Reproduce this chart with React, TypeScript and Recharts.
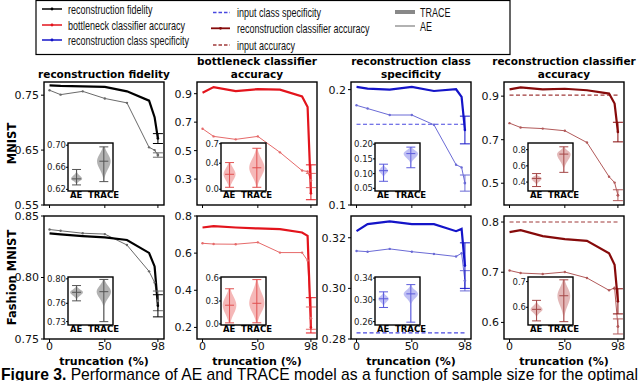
import React from "react";
import {
  ComposedChart,
  Line,
  Scatter,
  ErrorBar,
  Bar,
  XAxis,
  YAxis,
  ReferenceLine,
} from "recharts";

// x positions of the sample-size truncation runs
const truncation = [0, 10, 30, 50, 70, 90, 95, 98];
const xTicks = [0, 50, 98];

// MNIST row
const mnistFidelityTrace = [0.768, 0.767, 0.766, 0.765, 0.757, 0.74, 0.71, 0.671];
const mnistFidelityAE = [0.759, 0.751, 0.757, 0.744, 0.736, 0.655, 0.65, 0.641];
const mnistBottleneckTrace = [0.907, 0.946, 0.918, 0.932, 0.928, 0.881, 0.806, 0.2];
const mnistBottleneckAE = [0.654, 0.6, 0.579, 0.6, 0.488, 0.36, 0.353, 0.29];
const mnistSpecTrace = [0.2023, 0.2009, 0.2, 0.2023, 0.1988, 0.2003, 0.1937, 0.165];
const mnistSpecAE = [0.1864, 0.1836, 0.178, 0.178, 0.1695, 0.1349, 0.1326, 0.119];
const mnistRecAccTrace = [0.931, 0.94, 0.931, 0.934, 0.927, 0.912, 0.866, 0.735];
const mnistRecAccAE = [0.776, 0.756, 0.751, 0.741, 0.687, 0.53, 0.503, 0.445];
const mnistInputSpec = 0.17;
const mnistInputAcc = 0.905;

// Fashion MNIST row
const fashionFidelityTrace = [0.8358, 0.835, 0.8337, 0.8326, 0.8305, 0.82, 0.809, 0.777];
const fashionFidelityAE = [0.839, 0.838, 0.836, 0.8353, 0.8264, 0.805, 0.796, 0.781];
const fashionBottleneckTrace = [0.738, 0.745, 0.738, 0.733, 0.729, 0.711, 0.693, 0.2];
const fashionBottleneckAE = [0.653, 0.649, 0.648, 0.658, 0.603, 0.603, 0.56, 0.25];
const fashionSpecTrace = [0.3226, 0.3254, 0.3265, 0.3254, 0.3254, 0.3226, 0.3235, 0.309];
const fashionSpecAE = [0.3148, 0.3145, 0.3156, 0.3145, 0.3136, 0.3126, 0.3139, 0.303];
const fashionRecAccTrace = [0.78, 0.7837, 0.772, 0.766, 0.7626, 0.7378, 0.7148, 0.642];
const fashionRecAccAE = [0.7035, 0.6984, 0.6965, 0.7004, 0.6886, 0.664, 0.669, 0.592];
const fashionInputSpec = 0.2824;
const fashionInputAcc = 0.8;

// error bars at 98% truncation: [below, above]
const errMnistFidelity = { trace: [0.009, 0.009], ae: [0.004, 0.004] };
const errMnistBottleneck = { trace: [0.045, 0.2], ae: [0.05, 0.05] };
const errMnistSpec = { trace: [0.012, 0.012], ae: [0.007, 0.007] };
const errMnistRecAcc = { trace: [0.045, 0.045], ae: [0.025, 0.025] };
const errFashionFidelity = { trace: [0.009, 0.009], ae: [0.008, 0.008] };
const errFashionBottleneck = { trace: [0.03, 0.16], ae: [0.06, 0.06] };
const errFashionSpec = { trace: [0.009, 0.009], ae: [0.004, 0.004] };
const errFashionRecAcc = { trace: [0.025, 0.025], ae: [0.015, 0.015] };

// violin stats: [min, body low, median, body high, max, relative width]
const insetLabels = ["AE", "TRACE"];
const vMnistFidelity = [[0.628, 0.633, 0.639, 0.648, 0.656, 0.7], [0.634, 0.648, 0.671, 0.692, 0.697, 0.85]];
const vMnistBottleneck = [[0.03, 0.08, 0.23, 0.38, 0.41, 0.75], [0.03, 0.12, 0.33, 0.55, 0.63, 0.95]];
const vMnistSpec = [[0.074, 0.095, 0.11, 0.125, 0.132, 0.55], [0.12, 0.145, 0.168, 0.185, 0.19, 0.9]];
const vMnistRecAcc = [[0.345, 0.39, 0.445, 0.48, 0.505, 0.65], [0.52, 0.62, 0.745, 0.81, 0.835, 0.85]];
const vFashionFidelity = [[0.764, 0.77, 0.778, 0.785, 0.789, 0.8], [0.73, 0.762, 0.779, 0.794, 0.799, 0.9]];
const vFashionBottleneck = [[0.014, 0.06, 0.245, 0.42, 0.46, 0.85], [0.015, 0.08, 0.27, 0.5, 0.58, 0.95]];
const vFashionSpec = [[0.286, 0.293, 0.302, 0.31, 0.3147, 0.65], [0.259, 0.298, 0.311, 0.322, 0.328, 0.9]];
const vFashionRecAcc = [[0.547, 0.572, 0.592, 0.612, 0.627, 0.75], [0.544, 0.585, 0.645, 0.695, 0.707, 0.8]];

const titles = [
  ["reconstruction fidelity"],
  ["bottleneck classifier", "accuracy"],
  ["reconstruction class", "specificity"],
  ["reconstruction classifier", "accuracy"],
];
const rowLabels = ["MNIST", "Fashion MNIST"];
const legendCol1 = ["reconstruction fidelity", "bottleneck classifier accuracy", "reconstruction class specificity"];
const legendCol2 = ["input class specificity", "reconstruction classifier accuracy", "input accuracy"];
const legendCol3 = ["TRACE", "AE"];

const FONT = "'DejaVu Sans', sans-serif";
const BOX_W = 120;
const BOX_H = 123;
const YW = 40;
const MT = 8; // room above each panel for the top tick label
const colLeft = [44, 197, 351, 504];
const rowTop = [82, 216];
// inset box relative to its panel
const IN_DX = 24;
const IN_DY = 61;
const IN_W = 45;
const IN_H = 48;
const IN_YW = 24;
const IN_MT = 6;
const IN_MR = 14;

const pal = {
  fidelity: { line: "#000000", ae: "#6a6a6a", violin: "#9a9a9a", whisker: "#555555", dash: "#000" },
  bottleneck: { line: "#e3141c", ae: "#e66a6a", violin: "#f2a0a0", whisker: "#e05050", dash: "#e3141c" },
  spec: { line: "#1414c8", ae: "#6b6bd6", violin: "#a9a9f0", whisker: "#5c5cdc", dash: "#4848e0" },
  recAcc: { line: "#860a0a", ae: "#b25a5a", violin: "#d9a0a0", whisker: "#a54848", dash: "#a03a3a" },
};

const panels = [
  { col: 0, row: 0, trace: mnistFidelityTrace, ae: mnistFidelityAE, err: errMnistFidelity, p: pal.fidelity,
    domain: [0.55, 0.774], ticks: [0.55, 0.65, 0.75], digits: 2,
    violins: vMnistFidelity, iDomain: [0.617, 0.704], iTicks: [0.62, 0.66, 0.7], iDigits: 2 },
  { col: 1, row: 0, trace: mnistBottleneckTrace, ae: mnistBottleneckAE, err: errMnistBottleneck, p: pal.bottleneck,
    domain: [0.118, 0.982], ticks: [0.3, 0.5, 0.7, 0.9], digits: 1,
    violins: vMnistBottleneck, iDomain: [-0.027, 0.711], iTicks: [0, 0.4, 0.7], iDigits: 1 },
  { col: 2, row: 0, trace: mnistSpecTrace, ae: mnistSpecAE, err: errMnistSpec, p: pal.spec, input: mnistInputSpec,
    domain: [0.1, 0.2066], ticks: [0.1, 0.2], digits: 1,
    violins: vMnistSpec, iDomain: [0.041, 0.204], iTicks: [0.05, 0.1, 0.15, 0.2], iDigits: 2 },
  { col: 3, row: 0, trace: mnistRecAccTrace, ae: mnistRecAccAE, err: errMnistRecAcc, p: pal.recAcc, input: mnistInputAcc,
    domain: [0.4, 0.965], ticks: [0.5, 0.7, 0.9], digits: 1,
    violins: vMnistRecAcc, iDomain: [0.29, 0.882], iTicks: [0.4, 0.6, 0.8], iDigits: 1 },
  { col: 0, row: 1, trace: fashionFidelityTrace, ae: fashionFidelityAE, err: errFashionFidelity, p: pal.fidelity,
    domain: [0.75, 0.85], ticks: [0.75, 0.8, 0.85], digits: 2,
    violins: vFashionFidelity, iDomain: [0.7245, 0.803], iTicks: [0.73, 0.76, 0.8], iDigits: 2 },
  { col: 1, row: 1, trace: fashionBottleneckTrace, ae: fashionBottleneckAE, err: errFashionBottleneck, p: pal.bottleneck,
    domain: [0.1376, 0.8], ticks: [0.2, 0.4, 0.6, 0.8], digits: 1,
    violins: vFashionBottleneck, iDomain: [-0.014, 0.614], iTicks: [0, 0.3, 0.6], iDigits: 1 },
  { col: 2, row: 1, trace: fashionSpecTrace, ae: fashionSpecAE, err: errFashionSpec, p: pal.spec, input: fashionInputSpec,
    domain: [0.28, 0.3286], ticks: [0.28, 0.3, 0.32], digits: 2,
    violins: vFashionSpec, iDomain: [0.2538, 0.342], iTicks: [0.26, 0.3, 0.34], iDigits: 2 },
  { col: 3, row: 1, trace: fashionRecAccTrace, ae: fashionRecAccAE, err: errFashionRecAcc, p: pal.recAcc, input: fashionInputAcc,
    domain: [0.567, 0.812], ticks: [0.6, 0.7, 0.8], digits: 1,
    violins: vFashionRecAcc, iDomain: [0.531, 0.718], iTicks: [0.6, 0.7], iDigits: 1 },
];

function makeViolin(p: any) {
  return (props: any) => {
    const { x, y, width, height, payload } = props;
    const [lo, bLo, med, bHi, hi, dens] = payload.stats;
    const top = Math.min(y, y + height);
    const h = Math.abs(height);
    const toY = (v: number) => top + ((hi - v) / (hi - lo)) * h;
    const cx = x + width / 2;
    const maxHalf = (width / 2) * dens;
    const pts: [number, number][] = [];
    const N = 28;
    for (let k = 0; k <= N; k++) {
      const v = hi - (k / N) * (hi - lo);
      const s = v >= med ? (bHi - med) / 1.6 : (med - bLo) / 1.6;
      const w = maxHalf * Math.exp(-0.5 * ((v - med) / s) ** 2);
      pts.push([toY(v), Math.max(w, 0.6)]);
    }
    const right = pts.map(([py, w]) => `${cx + w},${py}`);
    const left = pts.slice().reverse().map(([py, w]) => `${cx - w},${py}`);
    const cap = width * 0.28;
    return (
      <g>
        <polygon points={[...right, ...left].join(" ")} fill={p.violin} fillOpacity={0.75} stroke="none" />
        <line x1={cx} x2={cx} y1={toY(hi)} y2={toY(lo)} stroke={p.whisker} strokeWidth={1} />
        <line x1={cx - cap} x2={cx + cap} y1={toY(hi)} y2={toY(hi)} stroke={p.whisker} strokeWidth={1} />
        <line x1={cx - cap} x2={cx + cap} y1={toY(lo)} y2={toY(lo)} stroke={p.whisker} strokeWidth={1} />
        <line x1={cx - cap} x2={cx + cap} y1={toY(med)} y2={toY(med)} stroke={p.whisker} strokeWidth={1} />
      </g>
    );
  };
}

function Inset({ cfg }: { cfg: any }) {
  const bx = colLeft[cfg.col] + IN_DX;
  const by = rowTop[cfg.row] + IN_DY;
  const rows = insetLabels.map((name, i) => ({
    pos: i + 1,
    name,
    range: [cfg.violins[i][0], cfg.violins[i][4]],
    stats: cfg.violins[i],
  }));
  return (
    <div style={{ position: "absolute", left: bx - IN_YW, top: by - IN_MT }}>
      <ComposedChart
        width={IN_YW + IN_W + IN_MR}
        height={IN_MT + IN_H + 12}
        data={rows}
        margin={{ top: IN_MT, right: IN_MR, bottom: 0, left: 0 }}
      >
        <XAxis
          dataKey="pos"
          type="number"
          domain={[0.7, 2.35]}
          ticks={[1, 2]}
          interval={0}
          allowDataOverflow
          height={12}
          tickSize={0}
          tickMargin={1}
          axisLine={false}
          tickFormatter={(v: number) => insetLabels[v - 1]}
          tick={{ fontSize: 8.5, fontWeight: "bold", fill: "#000", fontFamily: FONT }}
        />
        <YAxis
          type="number"
          domain={cfg.iDomain}
          ticks={cfg.iTicks}
          interval={0}
          allowDataOverflow
          width={IN_YW}
          tickSize={2}
          tickMargin={0}
          axisLine={false}
          tickLine={{ stroke: "#000" }}
          tickFormatter={(v: number) => v.toFixed(cfg.iDigits)}
          tick={{ fontSize: 8.5, fill: "#222", fontFamily: FONT }}
        />
        <Bar dataKey="range" barSize={16} shape={makeViolin(cfg.p)} isAnimationActive={false} />
      </ComposedChart>
    </div>
  );
}

function Panel({ cfg }: { cfg: any }) {
  const left = colLeft[cfg.col];
  const top = rowTop[cfg.row];
  const showX = cfg.row === 1;
  const rows = truncation.map((t, i) => ({ t, trace: cfg.trace[i], ae: cfg.ae[i] }));
  const n = truncation.length - 1;
  const errRows = [{ t: truncation[n], trace: cfg.trace[n], ae: cfg.ae[n], traceErr: cfg.err.trace, aeErr: cfg.err.ae }];
  const xh = showX ? 31 : 9;
  const p = cfg.p;
  return (
    <div style={{ position: "absolute", left: left - YW, top: top - MT }}>
      <ComposedChart width={YW + BOX_W + 2} height={MT + BOX_H + xh} data={rows} margin={{ top: MT, right: 2, bottom: 0, left: 0 }}>
        <XAxis
          dataKey="t"
          type="number"
          domain={[-5, 103.5]}
          ticks={xTicks}
          interval={0}
          allowDataOverflow
          height={xh}
          tickSize={3}
          tickMargin={0}
          axisLine={false}
          tickLine={{ stroke: "#000" }}
          tickFormatter={(v: number) => (showX ? String(v) : "")}
          tick={{ fontSize: 11, fill: "#111", fontFamily: FONT }}
          label={
            showX
              ? { value: "truncation (%)", position: "insideBottom", offset: 5, fontSize: 11, fontWeight: "bold", fill: "#000", fontFamily: FONT }
              : undefined
          }
        />
        <YAxis
          type="number"
          domain={cfg.domain}
          ticks={cfg.ticks}
          interval={0}
          allowDataOverflow
          width={YW}
          tickSize={3}
          tickMargin={2}
          axisLine={false}
          tickLine={{ stroke: "#000" }}
          tickFormatter={(v: number) => v.toFixed(cfg.digits)}
          tick={{ fontSize: 11, fill: "#111", fontFamily: FONT }}
        />
        {cfg.input !== undefined && (
          <ReferenceLine
            segment={[{ x: truncation[0], y: cfg.input }, { x: truncation[n], y: cfg.input }]}
            stroke={p.dash}
            strokeWidth={1.2}
            strokeDasharray="4 2.5"
          />
        )}
        <Line
          dataKey="ae"
          stroke={p.ae}
          strokeWidth={1}
          dot={{ r: 1.2, fill: p.ae, stroke: "none" }}
          isAnimationActive={false}
        />
        <Line dataKey="trace" stroke={p.line} strokeWidth={2.2} dot={false} isAnimationActive={false} />
        <Scatter
          data={errRows}
          dataKey="ae"
          isAnimationActive={false}
          shape={(s: any) => <circle cx={s.cx} cy={s.cy} r={1.3} fill={p.ae} />}
        >
          <ErrorBar dataKey="aeErr" direction="y" width={5} stroke={p.ae} strokeWidth={1} />
        </Scatter>
        <Scatter
          data={errRows}
          dataKey="trace"
          isAnimationActive={false}
          shape={(s: any) => <circle cx={s.cx} cy={s.cy} r={1.3} fill={p.line} />}
        >
          <ErrorBar dataKey="traceErr" direction="y" width={5} stroke={p.line} strokeWidth={1} />
        </Scatter>
      </ComposedChart>
    </div>
  );
}

// spines of every main panel plus the white, framed background of each inset
function Frames() {
  return (
    <svg width={640} height={381} style={{ position: "absolute", left: 0, top: 0, pointerEvents: "none" }}>
      {panels.map((cfg, i) => (
        <rect key={`f${i}`} x={colLeft[cfg.col]} y={rowTop[cfg.row]} width={BOX_W} height={BOX_H} fill="none" stroke="#000" strokeWidth={1.4} />
      ))}
      {panels.map((cfg, i) => (
        <rect
          key={`g${i}`}
          x={colLeft[cfg.col] + IN_DX}
          y={rowTop[cfg.row] + IN_DY}
          width={IN_W}
          height={IN_H}
          fill="#fff"
          stroke="#000"
          strokeWidth={1.4}
        />
      ))}
    </svg>
  );
}

function Legend() {
  const col1Colors = [pal.fidelity.line, pal.bottleneck.line, pal.spec.line];
  const col1Y = [9, 25, 40];
  const col2Y = [12.5, 28.3, 45];
  const col3Y = [12, 26];
  const txt = (x: number, y: number, s: string) => (
    <text
      key={s}
      transform={`translate(${x},${y}) scale(0.75,1)`}
      dominantBaseline="central"
      fontSize={12}
      fontFamily="'Liberation Sans', Arial, sans-serif"
      fill="#111"
    >
      {s}
    </text>
  );
  return (
    <svg width={640} height={60} style={{ position: "absolute", left: 0, top: 0 }}>
      <rect x={36} y={0.5} width={474} height={54} fill="#fff" stroke="#000" strokeWidth={1.2} />
      {legendCol1.map((s, i) => (
        <g key={s}>
          <line x1={42} x2={62} y1={col1Y[i]} y2={col1Y[i]} stroke={col1Colors[i]} strokeWidth={1.5} />
          <circle cx={52} cy={col1Y[i]} r={1.4} fill={col1Colors[i]} />
          {txt(68, col1Y[i], s)}
        </g>
      ))}
      <line x1={213} x2={230} y1={col2Y[0]} y2={col2Y[0]} stroke={pal.spec.dash} strokeWidth={1.3} strokeDasharray="3.5 2" />
      {txt(237, col2Y[0], legendCol2[0])}
      <line x1={211} x2={230} y1={col2Y[1]} y2={col2Y[1]} stroke={pal.recAcc.line} strokeWidth={1.8} />
      <circle cx={220.5} cy={col2Y[1]} r={1.4} fill={pal.recAcc.line} />
      {txt(237, col2Y[1], legendCol2[1])}
      <line x1={213} x2={230} y1={col2Y[2]} y2={col2Y[2]} stroke={pal.recAcc.dash} strokeWidth={1.3} strokeDasharray="3.5 2" />
      {txt(237, col2Y[2], legendCol2[2])}
      <line x1={395} x2={415} y1={col3Y[0]} y2={col3Y[0]} stroke="#888" strokeWidth={4} />
      {txt(420, col3Y[0], legendCol3[0])}
      <line x1={395} x2={415} y1={col3Y[1]} y2={col3Y[1]} stroke="#888" strokeWidth={1.3} />
      {txt(420, col3Y[1], legendCol3[1])}
    </svg>
  );
}

export default function App() {
  return (
    <div style={{ position: "absolute", left: 0, top: 0, width: 640, height: 381, overflow: "hidden", background: "#fff", fontFamily: FONT }}>
      {panels.map((cfg, i) => (
        <Panel key={`p${i}`} cfg={cfg} />
      ))}
      <Frames />
      {panels.map((cfg, i) => (
        <Inset key={`i${i}`} cfg={cfg} />
      ))}
      {titles.map((lines, c) => (
        <div
          key={`t${c}`}
          style={{
            position: "absolute",
            left: colLeft[c] - 20,
            width: BOX_W + 40,
            top: 82 - 13 * lines.length - 1,
            textAlign: "center",
            fontSize: 10.5,
            fontWeight: "bold",
            lineHeight: "13px",
            color: "#000",
            whiteSpace: "nowrap",
          }}
        >
          {lines.map((l) => (
            <div key={l}>{l}</div>
          ))}
        </div>
      ))}
      <svg width={30} height={381} style={{ position: "absolute", left: 0, top: 0 }}>
        {rowLabels.map((s, i) => (
          <text
            key={s}
            transform={`translate(12,${rowTop[i] + BOX_H / 2}) rotate(-90)`}
            textAnchor="middle"
            dominantBaseline="central"
            fontSize={11.5}
            fontWeight="bold"
            fontFamily={FONT}
            fill="#000"
          >
            {s}
          </text>
        ))}
      </svg>
      <Legend />
      <svg width={640} height={16} style={{ position: "absolute", left: 0, top: 365 }}>
        <text x={1} y={15} fontSize={17} fontFamily="'Liberation Sans', Arial, sans-serif" fill="#000" textLength={637} lengthAdjust="spacingAndGlyphs">
          <tspan fontWeight="bold">Figure 3.</tspan> Performance of AE and TRACE model as a function of sample size for the optimal
        </text>
      </svg>
    </div>
  );
}
